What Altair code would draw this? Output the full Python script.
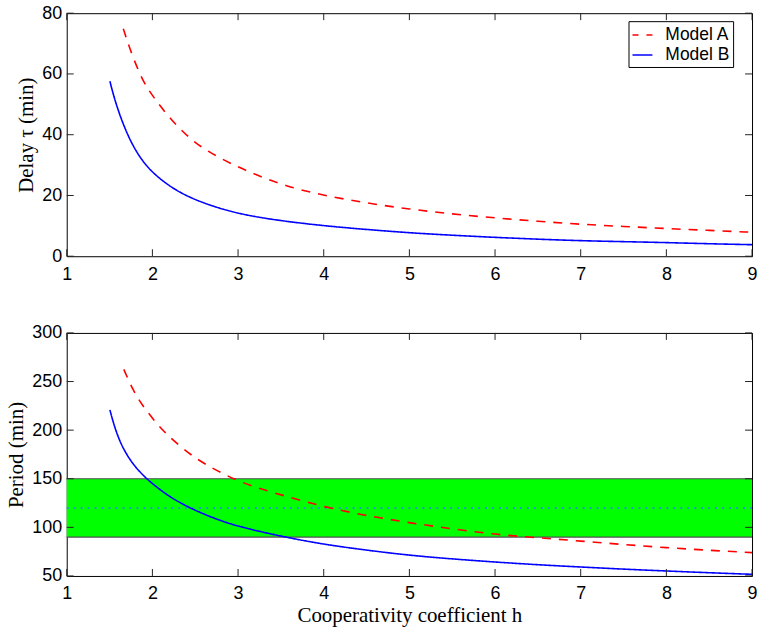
import altair as alt
import pandas as pd

# ---------------- data ----------------
models = ["Model A", "Model B"]
line_colors = ["#ff0000", "#0000ff"]
x_ticks = [1, 2, 3, 4, 5, 6, 7, 8, 9]
delay_ticks = [0, 20, 40, 60, 80]
period_ticks = [50, 100, 150, 200, 250, 300]

# Delay, Model A
h_delay_A = [1.66, 1.755, 1.89, 2.01, 2.2, 2.43, 2.65, 2.94, 3.21, 3.56, 4.0, 4.5,
             5.0, 5.5, 6.0, 6.5, 7.0, 7.5, 8.0, 8.5, 9.0]
delay_A = [74.9, 66.7, 57.4, 52.5, 45.4, 38.8, 34.4, 30.1, 26.8, 23.0, 20.0, 17.5,
           15.5, 13.9, 12.6, 11.5, 10.5, 9.8, 9.1, 8.5, 7.9]

# Delay, Model B
h_delay_B = [1.504, 1.56, 1.66, 1.775, 1.89, 2.01, 2.2, 2.43, 2.74, 3.01, 3.4, 4.0,
             4.5, 5.0, 5.5, 6.0, 6.5, 7.0, 7.5, 8.0, 8.5, 9.0]
delay_B = [57.6, 51.4, 43.2, 36.1, 31.1, 27.3, 23.0, 19.3, 16.1, 14.0, 12.0, 10.0,
           8.8, 7.7, 6.9, 6.2, 5.6, 5.1, 4.8, 4.5, 4.1, 3.8]

# Period, Model A
h_period_A = [1.666, 1.782, 1.88, 2.015, 2.15, 2.325, 2.5, 2.675, 2.86, 3.05, 3.29, 3.56,
              4.0, 4.5, 5.0, 5.5, 6.0, 6.5, 7.0, 7.5, 8.0, 8.5, 9.0]
period_A = [262.5, 239.5, 225.9, 210.5, 196.9, 183.2, 171.3, 162.1, 153.5, 146.0, 138.8, 132.0,
            121.0, 112.0, 104.7, 98.5, 92.7, 89.3, 85.9, 82.3, 79.1, 76.4, 74.0]

# Period, Model B
h_period_B = [1.504, 1.55, 1.608, 1.666, 1.744, 1.82, 1.937, 2.05, 2.2, 2.43, 2.74, 3.01,
              3.52, 4.0, 4.5, 5.0, 5.5, 6.0, 6.5, 7.0, 7.5, 8.0, 8.5, 9.0]
period_B = [220.8, 205.6, 191.1, 180.1, 168.8, 160.1, 149.6, 141.4, 131.5, 120.0, 108.5, 100.6,
            90.4, 82.5, 76.5, 71.2, 67.5, 64.3, 61.5, 59.2, 57.0, 55.1, 53.3, 51.7]

# Observed period band
band_h = [1, 9]
band_low = [90]
band_high = [150]
band_mid = [120]

PLOT_W = 688
PLOT_H = 244
TICK_LEN = 7

# ---------------- helpers ----------------
LABEL_FONT = "Liberation Sans"
TITLE_FONT = "Liberation Serif"


def main_axis(orient, values, title, pad):
    kw = dict(orient=orient, values=values, offset=0, ticks=False, tickSize=0, domain=False,
              grid=False,
              labelFont=LABEL_FONT, labelFontSize=18, labelColor="black", labelPadding=pad,
              labelFlush=False, labelOverlap=False, format="d",
              titleFont=TITLE_FONT, titleFontSize=21, titleFontWeight="normal",
              titleColor="black", title=title)
    kw["titlePadding"] = 5 if orient == "left" else 2
    return alt.Axis(**kw)


def panel(hA, vA, hB, vB, y_dom, y_ticks, y_title, x_title, show_legend, with_band):
    dfA = pd.DataFrame({"h": hA, "v": vA, "model": models[0]})
    dfB = pd.DataFrame({"h": hB, "v": vB, "model": models[1]})
    xs = alt.Scale(domain=[band_h[0], band_h[1]], nice=False, zero=False)
    ys = alt.Scale(domain=y_dom, nice=False, zero=False)

    if show_legend:
        leg = alt.Legend(title=None, orient="none", legendX=564, legendY=8,
                         direction="vertical", symbolType="stroke", symbolStrokeWidth=1.5,
                         symbolSize=400, symbolDashOffset=3,
                         labelFont=LABEL_FONT, labelFontSize=17.5,
                         labelColor="black", strokeColor="black", fillColor="white",
                         padding=3, rowPadding=0, labelOffset=12, cornerRadius=0)
    else:
        leg = None
    color = alt.Color("model:N", scale=alt.Scale(domain=models, range=line_colors), legend=leg)
    dash = alt.StrokeDash("model:N", scale=alt.Scale(domain=models, range=[[9, 8], [1, 0]]),
                          legend=leg)

    lineA = alt.Chart(dfA).mark_line(strokeWidth=1.6, interpolate="basis", clip=True).encode(
        x=alt.X("h:Q", scale=xs, axis=main_axis("bottom", x_ticks, x_title, 9)),
        y=alt.Y("v:Q", scale=ys, axis=main_axis("left", y_ticks, y_title, 5)),
        color=color, strokeDash=dash,
    )
    lineB = alt.Chart(dfB).mark_line(strokeWidth=1.6, interpolate="basis", clip=True).encode(
        x=alt.X("h:Q", scale=xs, axis=None),
        y=alt.Y("v:Q", scale=ys, axis=None),
        color=color, strokeDash=dash,
    )

    # inward tick marks on all four sides
    xt = pd.DataFrame({"t": x_ticks})
    yt = pd.DataFrame({"t": y_ticks})
    rule_style = dict(color="#222222", strokeWidth=1, opacity=1)
    ticks_bottom = alt.Chart(xt).mark_rule(**rule_style).encode(
        x=alt.X("t:Q", scale=xs, axis=None),
        y=alt.value(PLOT_H - TICK_LEN), y2=alt.value(PLOT_H))
    ticks_top = alt.Chart(xt).mark_rule(**rule_style).encode(
        x=alt.X("t:Q", scale=xs, axis=None),
        y=alt.value(0), y2=alt.value(TICK_LEN))
    ticks_left = alt.Chart(yt).mark_rule(**rule_style).encode(
        y=alt.Y("t:Q", scale=ys, axis=None),
        x=alt.value(0), x2=alt.value(TICK_LEN))
    ticks_right = alt.Chart(yt).mark_rule(**rule_style).encode(
        y=alt.Y("t:Q", scale=ys, axis=None),
        x=alt.value(PLOT_W - TICK_LEN), x2=alt.value(PLOT_W))

    layers = []
    if with_band:
        band_df = pd.DataFrame({"x0": [band_h[0]], "x1": [band_h[1]],
                                "lo": band_low, "hi": band_high})
        rect = alt.Chart(band_df).mark_rect(color="#00ff00").encode(
            x=alt.X("x0:Q", scale=xs, axis=None), x2="x1:Q",
            y=alt.Y("lo:Q", scale=ys, axis=None), y2="hi:Q",
        )
        edge_df = pd.DataFrame({"v": band_low + band_high})
        edges = alt.Chart(edge_df).mark_rule(color="#505050", strokeWidth=1.2).encode(
            y=alt.Y("v:Q", scale=ys, axis=None)
        )
        mid_df = pd.DataFrame({"v": band_mid})
        mid = alt.Chart(mid_df).mark_rule(color="#2a7fff", strokeWidth=1.5,
                                          strokeDash=[2, 5]).encode(
            y=alt.Y("v:Q", scale=ys, axis=None)
        )
        layers += [rect, edges, mid]
    layers += [lineA, lineB, ticks_bottom, ticks_top, ticks_left, ticks_right]
    return alt.layer(*layers).resolve_axis(x="independent", y="independent").properties(
        width=PLOT_W, height=PLOT_H)


top = panel(h_delay_A, delay_A, h_delay_B, delay_B, [0, 80], delay_ticks,
            "Delay \u03c4 (min)", None, True, False)
bottom = panel(h_period_A, period_A, h_period_B, period_B, [50, 300], period_ticks,
               "Period (min)", "Cooperativity coefficient h", False, True)

chart = alt.vconcat(top, bottom, spacing=39).resolve_scale(
    color="independent", strokeDash="independent"
).configure(
    padding={"left": 5, "top": 2, "right": 0, "bottom": 0}, background="white"
).configure_view(stroke="black", strokeWidth=1)

chart.save("out.html", embed_options={"renderer": "svg", "actions": False})
